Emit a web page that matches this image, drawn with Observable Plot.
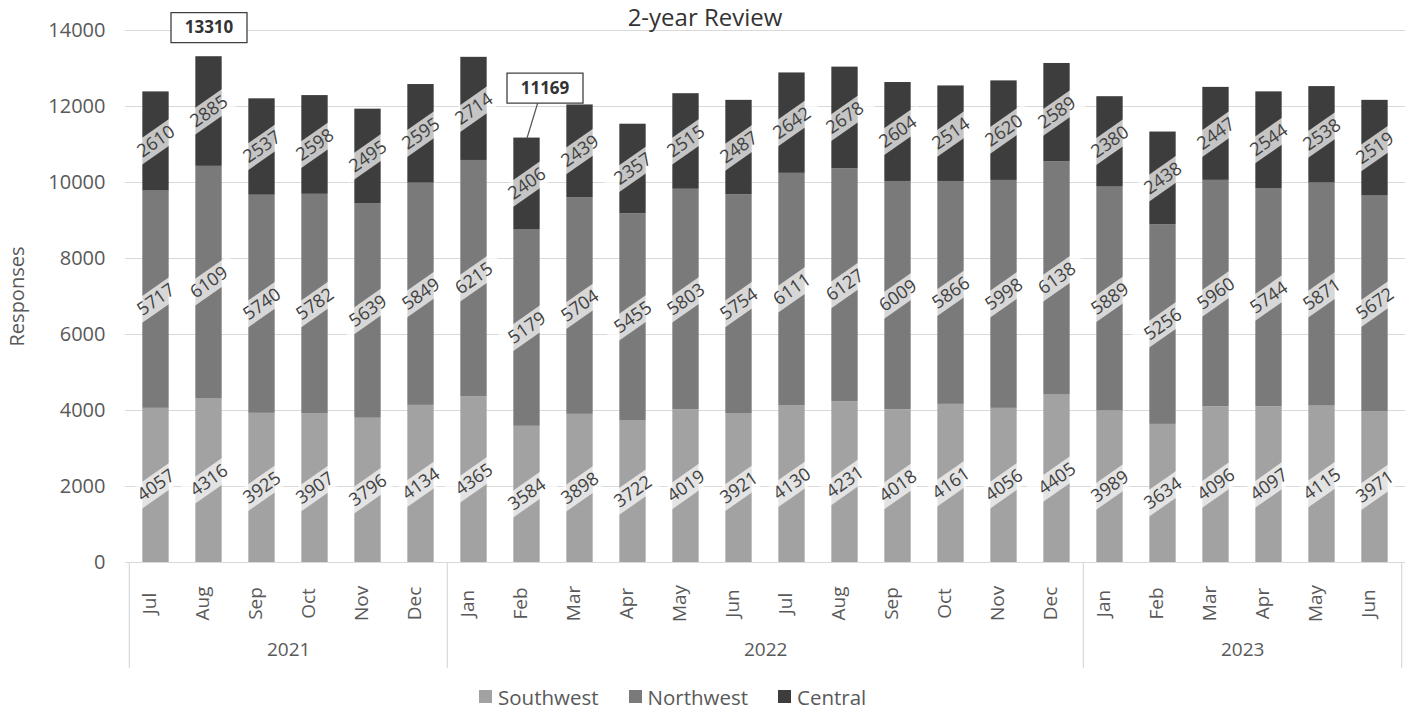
<!DOCTYPE html>
<html>
<head>
<meta charset="utf-8">
<script src="https://cdn.jsdelivr.net/npm/d3@7"></script>
<script src="https://cdn.jsdelivr.net/npm/@observablehq/plot@0.6"></script>
<style>
  html, body { margin: 0; padding: 0; background: #fff; }
  #wrap { position: relative; width: 1420px; height: 713px; overflow: hidden; font-family: "Open Sans", sans-serif; }
  #title { position: absolute; top: 0px; left: 0; width: 1410px; text-align: center; font-size: 24px; line-height: normal; color: #333; z-index: 2; }
  #chart { position: absolute; top: 0; left: 0; }
  #legend { position: absolute; top: 680px; left: 479px; z-index: 2; }
  #legend .lg-swatches { font-family: "Open Sans", sans-serif !important; font-size: 20.5px !important; color: #595959 !important; margin: 0 !important; min-height: 33px; }
  #legend .lg-swatch { margin-right: 30px !important; }
  #legend .lg-swatch > svg { margin-right: 6px !important; }
</style>
</head>
<body>
<div id="wrap">
  <div id="chart"></div>
  <div id="title">2-year Review</div>
  <div id="legend"></div>
</div>
<script>
// ---- data ----
const monthLabels = ["Jul","Aug","Sep","Oct","Nov","Dec",
  "Jan","Feb","Mar","Apr","May","Jun","Jul","Aug","Sep","Oct","Nov","Dec",
  "Jan","Feb","Mar","Apr","May","Jun"];
const monthYears = [2021,2021,2021,2021,2021,2021,
  2022,2022,2022,2022,2022,2022,2022,2022,2022,2022,2022,2022,
  2023,2023,2023,2023,2023,2023];
const seriesNames = ["Southwest", "Northwest", "Central"];
const southwest = [4057,4316,3925,3907,3796,4134,4365,3584,3898,3722,4019,3921,4130,4231,4018,4161,4056,4405,3989,3634,4096,4097,4115,3971];
const northwest = [5717,6109,5740,5782,5639,5849,6215,5179,5704,5455,5803,5754,6111,6127,6009,5866,5998,6138,5889,5256,5960,5744,5871,5672];
const central   = [2610,2885,2537,2598,2495,2595,2714,2406,2439,2357,2515,2487,2642,2678,2604,2514,2620,2589,2380,2438,2447,2544,2538,2519];
const yTicks = [0,2000,4000,6000,8000,10000,12000,14000];
const seriesColors = ["#a2a2a2", "#7a7a7a", "#3d3d3d"];

// ---- derived tables ----
const seriesValues = [southwest, northwest, central];
const keys = monthLabels.map((m, i) => `${monthYears[i]}-${m}`);
const monthOf = new Map(keys.map((k, i) => [k, monthLabels[i]]));
const rows = [];
seriesNames.forEach((s, si) => seriesValues[si].forEach((v, i) => rows.push({key: keys[i], series: s, value: v})));
const totals = keys.map((k, i) => seriesValues.reduce((a, arr) => a + arr[i], 0));
const iMax = d3.maxIndex(totals), iMin = d3.minIndex(totals);
const maxCallout = [{key: keys[iMax], total: totals[iMax]}];
const minCallout = [{key: keys[iMin], total: totals[iMin]}];
const yearGroups = d3.groups(keys.map((k, i) => ({k, y: monthYears[i]})), d => d.y)
  .map(([y, arr]) => ({year: String(y), first: arr[0].k, n: arr.length, mid: arr[Math.floor((arr.length - 1) / 2)].k}));

// ---- layout ----
const W = 1420, H = 680, MT = 30, MB = 118, ML = 125, MR = 15;
const step = (W - ML - MR) / keys.length;
const frameH = H - MT - MB;
const catDepth = 106;
const FONT = "Open Sans";

const ang = -35 * Math.PI / 180;
function rotRect(w, h) {
  const c = Math.cos(ang), s = Math.sin(ang);
  const pts = [[-w/2,-h/2],[w/2,-h/2],[w/2,h/2],[-w/2,h/2]].map(([x, y]) => [x*c - y*s, x*s + y*c]);
  return {draw(ctx) { ctx.moveTo(pts[0][0], pts[0][1]); for (let j = 1; j < 4; j++) ctx.lineTo(pts[j][0], pts[j][1]); ctx.closePath(); }};
}
const bandSymbol = rotRect(62, 22);
const boxSymbol = {draw(ctx) { ctx.rect(-38, -15, 76, 30); }};
const leaderShape = {draw(ctx, l) { ctx.moveTo(0, 0); ctx.lineTo(0, -l); }};

const gridColor = "#d9d9d9";
const axisText = "#595959";

const marks = [
  Plot.gridY(yTicks, {stroke: gridColor, strokeOpacity: 1, strokeWidth: 1.2}),
  Plot.ruleY([0], {stroke: gridColor, strokeWidth: 1.2}),
  Plot.barY(rows, {x: "key", y: "value", z: "series", fill: "series", insetLeft: step * 0.25, insetRight: step * 0.25}),
  Plot.dot(rows, Plot.stackY({x: "key", y: "value", z: "series", symbol: bandSymbol, fill: "white", fillOpacity: 0.7, stroke: "none"})),
  Plot.text(rows, Plot.stackY({x: "key", y: "value", z: "series", text: d => String(d.value), rotate: -35, fontSize: 18, fill: "#404040", fontFamily: FONT})),
  // callouts
  Plot.dot(maxCallout, {x: "key", y: "total", dy: -29, symbol: boxSymbol, fill: "white", stroke: "#404040", strokeWidth: 1.3}),
  Plot.text(maxCallout, {x: "key", y: "total", dy: -29, text: d => String(d.total), fontSize: 17, fontWeight: "bold", fill: "#333", fontFamily: FONT}),
  Plot.vector(minCallout, {x: "key", y: "total", length: 36, rotate: 17, anchor: "start", shape: leaderShape, stroke: "#555", strokeWidth: 1.3, fill: "none"}),
  Plot.dot(minCallout, {x: "key", y: "total", dx: 18, dy: -50, symbol: boxSymbol, fill: "white", stroke: "#404040", strokeWidth: 1.3}),
  Plot.text(minCallout, {x: "key", y: "total", dx: 18, dy: -50, text: d => String(d.total), fontSize: 17, fontWeight: "bold", fill: "#333", fontFamily: FONT}),
  // category axis: months
  Plot.text(keys, {x: d => d, text: d => monthOf.get(d), frameAnchor: "bottom", rotate: -90, dy: 41, fontSize: 19, fill: axisText, fontFamily: FONT}),
  // category axis: separators
  Plot.ruleX(yearGroups, {x: "first", dx: -step / 2, insetTop: frameH, insetBottom: -catDepth, stroke: gridColor, strokeWidth: 1.2}),
  Plot.ruleX([keys[keys.length - 1]], {x: d => d, dx: step / 2, insetTop: frameH, insetBottom: -catDepth, stroke: gridColor, strokeWidth: 1.2}),
  // category axis: years
  ...yearGroups.map(g => Plot.text([g], {x: "mid", text: "year", frameAnchor: "bottom", dy: 93, dx: g.n % 2 === 0 ? step / 2 : 0, fontSize: 19, fill: axisText, fontFamily: FONT})),
  Plot.axisY(yTicks, {tickSize: 0, tickPadding: 20, fontSize: 20, color: axisText, tickFormat: d => String(d), label: "Responses", labelAnchor: "center", labelOffset: 116, labelArrow: false})
];

const chart = Plot.plot({
  width: W, height: H,
  marginTop: MT, marginBottom: MB, marginLeft: ML, marginRight: MR,
  style: {fontFamily: FONT, background: "white", color: "#404040", fontSize: "20px"},
  x: {domain: keys, padding: 0, axis: null},
  y: {domain: [0, 14000]},
  color: {domain: seriesNames, range: seriesColors},
  marks
});
document.getElementById("chart").appendChild(chart);

const legend = Plot.legend({
  color: {domain: seriesNames, range: seriesColors},
  legend: "swatches",
  swatchSize: 13,
  className: "lg"
});
document.getElementById("legend").appendChild(legend);
</script>
</body>
</html>
